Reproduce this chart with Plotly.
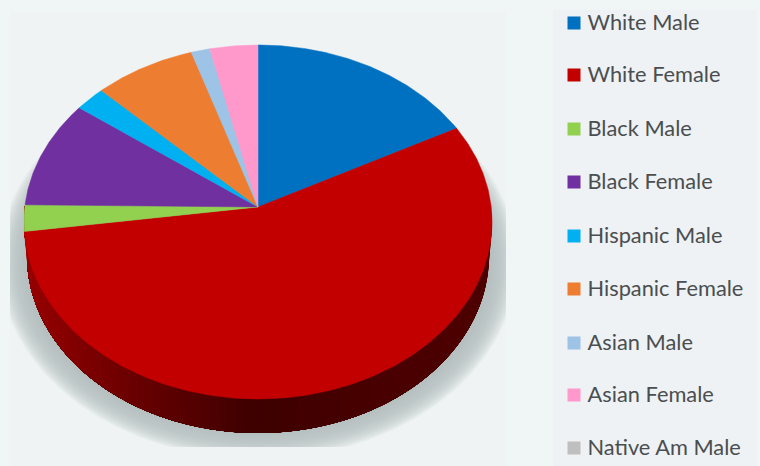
import numpy as np
import plotly.graph_objects as go

# Share of each group, in percent, clockwise from twelve o'clock
categories = ["White Male", "White Female", "Black Male", "Black Female", "Hispanic Male",
              "Hispanic Female", "Asian Male", "Asian Female", "Native Am Male"]
shares = [17.3, 55.5, 2.4, 9.9, 2.3, 7.6, 1.4, 3.6, 0.0]
colors = ["#0070c0", "#c30000", "#92d050", "#7030a0", "#00b0f0",
          "#ed7d31", "#9dc3e6", "#ff99cc", "#bfbfbf"]
legend_y = [23, 75, 129, 182, 236, 289, 343, 395, 448]

W, H = 760, 466
APEX_X, APEX_Y = 258.0, 207.0
TILT_K, SCALE_X, SCALE_Y = 0.0847, 233.2, 175.7
WALL_COLORS = [(30, (150, 0, 0)), (130, (108, 0, 0)), (258, (62, 0, 0)), (400, (74, 0, 0)), (490, (78, 0, 0))]


def project(angle, radius=1.0):
    """Perspective view of a point on the flat disc; angle is clockwise from the top."""
    u, v = radius * np.sin(angle), radius * np.cos(angle)
    w = 1 + TILT_K * v
    return APEX_X + SCALE_X * u / w, APEX_Y - SCALE_Y * v / w


def ellipse(cx, cy, rx, ry, n=240):
    t = np.linspace(0, 2 * np.pi, n)
    return cx + rx * np.cos(t), cy + ry * np.sin(t)


fig = go.Figure()


def add_poly(x, y, color, line=0.0):
    fig.add_trace(go.Scatter(x=list(x), y=list(y), mode="lines", fill="toself", fillcolor=color,
                             line=dict(color=color, width=line),
                             hoverinfo="skip", showlegend=False))


# Soft ground shadow, cut off at the edges of the plot panel
for s in np.linspace(1.0, 0.0, 22):
    x, y = ellipse(258, 262, 232 + 27 * s, 171 + 26 * s)
    add_poly(np.clip(x, 10, 506), np.clip(y, 0, 447), "rgba(184,190,193,0.11)")

# Side wall of the disc; each band runs to the far end and the next one paints over it
wall_start, wall_end = np.pi * 0.47, np.pi * 1.53
stops_x = [p[0] for p in WALL_COLORS]
for a0 in np.linspace(wall_start, wall_end, 90)[:-1]:
    ta = np.linspace(a0, wall_end, 60)
    top_x = 258 + 234 * np.sin(ta)
    top_y = 222 - 177 * np.cos(ta)
    low_x = 258 + 231 * np.sin(ta)
    low_y = 256 - 177 * np.cos(ta)
    rgb = [int(np.interp(top_x[0], stops_x, [p[1][c] for p in WALL_COLORS])) for c in range(3)]
    add_poly(np.r_[top_x, low_x[::-1]], np.r_[top_y, low_y[::-1]], "rgb(%d,%d,%d)" % tuple(rgb))

# Top face: one wedge per non-empty share
start = 0.0
total = sum(shares)
for name, share, color in zip(categories, shares, colors):
    if share > 0:
        sweep = share / total * 2 * np.pi
        t = np.linspace(start, start + sweep, max(3, int(share * 6)))
        rx, ry = project(t)
        fig.add_trace(go.Scatter(x=np.r_[APEX_X, rx, APEX_X], y=np.r_[APEX_Y, ry, APEX_Y], mode="lines",
                                 fill="toself", fillcolor=color, line=dict(color=color, width=0.5),
                                 name=name, hoverinfo="name", showlegend=False))
        start += sweep

# Key on the right
fig.add_trace(go.Scatter(x=[574] * len(categories), y=legend_y, mode="markers",
                         marker=dict(symbol="square", size=13, color=colors, line=dict(width=0)),
                         hoverinfo="skip", showlegend=False))
fig.add_trace(go.Scatter(x=[587.5] * len(categories), y=[v + 1.5 for v in legend_y], mode="text", text=categories,
                         textposition="middle right",
                         textfont=dict(family="Lato", size=21.8, color="#4b4e50"),
                         hoverinfo="skip", showlegend=False))

fig.update_layout(
    width=W, height=H, margin=dict(l=0, r=0, t=0, b=0),
    paper_bgcolor="#f0f5f6", plot_bgcolor="rgba(0,0,0,0)",
    xaxis=dict(range=[0, W], visible=False, fixedrange=True),
    yaxis=dict(range=[H, 0], visible=False, fixedrange=True),
    shapes=[
        dict(type="rect", layer="below", x0=10, x1=506, y0=12, y1=H, line_width=0, fillcolor="#eff3f4"),
        dict(type="rect", layer="below", x0=553, x1=757, y0=10, y1=H, line_width=0, fillcolor="#eef2f4"),
    ],
)
fig.write_html("out.html", config={"displayModeBar": False})
